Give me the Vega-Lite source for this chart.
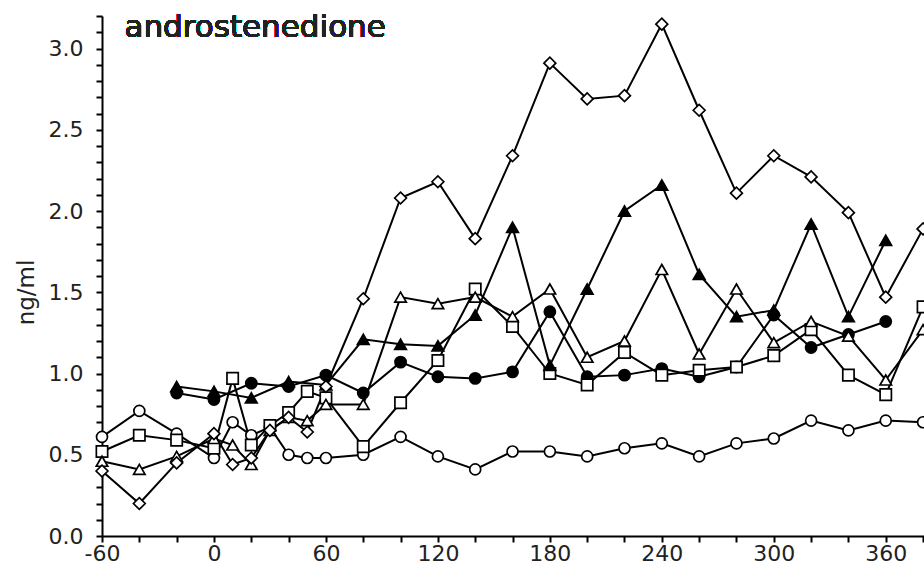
{
  "$schema": "https://vega.github.io/schema/vega-lite/v6.json",
  "width": 822,
  "height": 520,
  "autosize": {"type": "none"},
  "padding": {"left": 102, "top": 16, "right": 0, "bottom": 42},
  "background": "white",
  "config": {
    "view": {"stroke": null},
    "axis": {
      "grid": false,
      "domainColor": "black",
      "domainWidth": 2,
      "tickColor": "black",
      "tickWidth": 2,
      "tickSize": 6,
      "labelFont": "DejaVu Sans",
      "labelFontSize": 22,
      "labelColor": "#222",
      "labelOverlap": false,
      "labelFlush": false,
      "titleFont": "DejaVu Sans",
      "titleFontWeight": "normal",
      "titleFontSize": 23,
      "titleColor": "#222"
    }
  },
  "data": {
    "values": [
      {"series": "circle_open", "t": -60, "v": 0.61}, {"series": "circle_open", "t": -40, "v": 0.77}, {"series": "circle_open", "t": -20, "v": 0.63}, {"series": "circle_open", "t": 0, "v": 0.48}, {"series": "circle_open", "t": 10, "v": 0.70}, {"series": "circle_open", "t": 20, "v": 0.62}, {"series": "circle_open", "t": 30, "v": 0.67}, {"series": "circle_open", "t": 40, "v": 0.50}, {"series": "circle_open", "t": 50, "v": 0.48}, {"series": "circle_open", "t": 60, "v": 0.48}, {"series": "circle_open", "t": 80, "v": 0.50}, {"series": "circle_open", "t": 100, "v": 0.61}, {"series": "circle_open", "t": 120, "v": 0.49}, {"series": "circle_open", "t": 140, "v": 0.41}, {"series": "circle_open", "t": 160, "v": 0.52}, {"series": "circle_open", "t": 180, "v": 0.52}, {"series": "circle_open", "t": 200, "v": 0.49}, {"series": "circle_open", "t": 220, "v": 0.54}, {"series": "circle_open", "t": 240, "v": 0.57}, {"series": "circle_open", "t": 260, "v": 0.49}, {"series": "circle_open", "t": 280, "v": 0.57}, {"series": "circle_open", "t": 300, "v": 0.60}, {"series": "circle_open", "t": 320, "v": 0.71}, {"series": "circle_open", "t": 340, "v": 0.65}, {"series": "circle_open", "t": 360, "v": 0.71}, {"series": "circle_open", "t": 380, "v": 0.70},
      {"series": "circle_filled", "t": -20, "v": 0.88}, {"series": "circle_filled", "t": 0, "v": 0.84}, {"series": "circle_filled", "t": 20, "v": 0.94}, {"series": "circle_filled", "t": 40, "v": 0.92}, {"series": "circle_filled", "t": 60, "v": 0.99}, {"series": "circle_filled", "t": 80, "v": 0.88}, {"series": "circle_filled", "t": 100, "v": 1.07}, {"series": "circle_filled", "t": 120, "v": 0.98}, {"series": "circle_filled", "t": 140, "v": 0.97}, {"series": "circle_filled", "t": 160, "v": 1.01}, {"series": "circle_filled", "t": 180, "v": 1.38}, {"series": "circle_filled", "t": 200, "v": 0.98}, {"series": "circle_filled", "t": 220, "v": 0.99}, {"series": "circle_filled", "t": 240, "v": 1.03}, {"series": "circle_filled", "t": 260, "v": 0.98}, {"series": "circle_filled", "t": 280, "v": 1.04}, {"series": "circle_filled", "t": 300, "v": 1.36}, {"series": "circle_filled", "t": 320, "v": 1.16}, {"series": "circle_filled", "t": 340, "v": 1.24}, {"series": "circle_filled", "t": 360, "v": 1.32},
      {"series": "square_open", "t": -60, "v": 0.52}, {"series": "square_open", "t": -40, "v": 0.62}, {"series": "square_open", "t": -20, "v": 0.59}, {"series": "square_open", "t": 0, "v": 0.54}, {"series": "square_open", "t": 10, "v": 0.97}, {"series": "square_open", "t": 20, "v": 0.56}, {"series": "square_open", "t": 30, "v": 0.68}, {"series": "square_open", "t": 40, "v": 0.76}, {"series": "square_open", "t": 50, "v": 0.89}, {"series": "square_open", "t": 60, "v": 0.85}, {"series": "square_open", "t": 80, "v": 0.55}, {"series": "square_open", "t": 100, "v": 0.82}, {"series": "square_open", "t": 120, "v": 1.08}, {"series": "square_open", "t": 140, "v": 1.52}, {"series": "square_open", "t": 160, "v": 1.29}, {"series": "square_open", "t": 180, "v": 1.00}, {"series": "square_open", "t": 200, "v": 0.93}, {"series": "square_open", "t": 220, "v": 1.13}, {"series": "square_open", "t": 240, "v": 0.99}, {"series": "square_open", "t": 260, "v": 1.02}, {"series": "square_open", "t": 280, "v": 1.04}, {"series": "square_open", "t": 300, "v": 1.11}, {"series": "square_open", "t": 320, "v": 1.27}, {"series": "square_open", "t": 340, "v": 0.99}, {"series": "square_open", "t": 360, "v": 0.87}, {"series": "square_open", "t": 380, "v": 1.41},
      {"series": "triangle_open", "t": -60, "v": 0.46}, {"series": "triangle_open", "t": -40, "v": 0.41}, {"series": "triangle_open", "t": -20, "v": 0.49}, {"series": "triangle_open", "t": 0, "v": 0.60}, {"series": "triangle_open", "t": 10, "v": 0.56}, {"series": "triangle_open", "t": 20, "v": 0.44}, {"series": "triangle_open", "t": 30, "v": 0.65}, {"series": "triangle_open", "t": 40, "v": 0.73}, {"series": "triangle_open", "t": 50, "v": 0.71}, {"series": "triangle_open", "t": 60, "v": 0.81}, {"series": "triangle_open", "t": 80, "v": 0.81}, {"series": "triangle_open", "t": 100, "v": 1.47}, {"series": "triangle_open", "t": 120, "v": 1.43}, {"series": "triangle_open", "t": 140, "v": 1.47}, {"series": "triangle_open", "t": 160, "v": 1.35}, {"series": "triangle_open", "t": 180, "v": 1.52}, {"series": "triangle_open", "t": 200, "v": 1.10}, {"series": "triangle_open", "t": 220, "v": 1.20}, {"series": "triangle_open", "t": 240, "v": 1.64}, {"series": "triangle_open", "t": 260, "v": 1.12}, {"series": "triangle_open", "t": 280, "v": 1.52}, {"series": "triangle_open", "t": 300, "v": 1.19}, {"series": "triangle_open", "t": 320, "v": 1.32}, {"series": "triangle_open", "t": 340, "v": 1.23}, {"series": "triangle_open", "t": 360, "v": 0.96}, {"series": "triangle_open", "t": 380, "v": 1.27},
      {"series": "triangle_filled", "t": -20, "v": 0.92}, {"series": "triangle_filled", "t": 0, "v": 0.89}, {"series": "triangle_filled", "t": 20, "v": 0.85}, {"series": "triangle_filled", "t": 40, "v": 0.95}, {"series": "triangle_filled", "t": 60, "v": 0.93}, {"series": "triangle_filled", "t": 80, "v": 1.21}, {"series": "triangle_filled", "t": 100, "v": 1.18}, {"series": "triangle_filled", "t": 120, "v": 1.17}, {"series": "triangle_filled", "t": 140, "v": 1.36}, {"series": "triangle_filled", "t": 160, "v": 1.90}, {"series": "triangle_filled", "t": 180, "v": 1.05}, {"series": "triangle_filled", "t": 200, "v": 1.52}, {"series": "triangle_filled", "t": 220, "v": 2.00}, {"series": "triangle_filled", "t": 240, "v": 2.16}, {"series": "triangle_filled", "t": 260, "v": 1.61}, {"series": "triangle_filled", "t": 280, "v": 1.35}, {"series": "triangle_filled", "t": 300, "v": 1.39}, {"series": "triangle_filled", "t": 320, "v": 1.92}, {"series": "triangle_filled", "t": 340, "v": 1.35}, {"series": "triangle_filled", "t": 360, "v": 1.82},
      {"series": "diamond_open", "t": -60, "v": 0.40}, {"series": "diamond_open", "t": -40, "v": 0.20}, {"series": "diamond_open", "t": -20, "v": 0.45}, {"series": "diamond_open", "t": 0, "v": 0.63}, {"series": "diamond_open", "t": 10, "v": 0.44}, {"series": "diamond_open", "t": 20, "v": 0.48}, {"series": "diamond_open", "t": 30, "v": 0.65}, {"series": "diamond_open", "t": 40, "v": 0.73}, {"series": "diamond_open", "t": 50, "v": 0.64}, {"series": "diamond_open", "t": 60, "v": 0.92}, {"series": "diamond_open", "t": 80, "v": 1.46}, {"series": "diamond_open", "t": 100, "v": 2.08}, {"series": "diamond_open", "t": 120, "v": 2.18}, {"series": "diamond_open", "t": 140, "v": 1.83}, {"series": "diamond_open", "t": 160, "v": 2.34}, {"series": "diamond_open", "t": 180, "v": 2.91}, {"series": "diamond_open", "t": 200, "v": 2.69}, {"series": "diamond_open", "t": 220, "v": 2.71}, {"series": "diamond_open", "t": 240, "v": 3.15}, {"series": "diamond_open", "t": 260, "v": 2.62}, {"series": "diamond_open", "t": 280, "v": 2.11}, {"series": "diamond_open", "t": 300, "v": 2.34}, {"series": "diamond_open", "t": 320, "v": 2.21}, {"series": "diamond_open", "t": 340, "v": 1.99}, {"series": "diamond_open", "t": 360, "v": 1.47}, {"series": "diamond_open", "t": 380, "v": 1.89}
    ]
  },
  "encoding": {
    "x": {
      "field": "t", "type": "quantitative",
      "scale": {"domain": [-60, 380.5], "nice": false, "zero": false},
      "axis": {
        "title": null,
        "values": [-60, -40, -20, 0, 20, 40, 60, 80, 100, 120, 140, 160, 180, 200, 220, 240, 260, 280, 300, 320, 340, 360, 380],
        "labelExpr": "datum.value % 60 === 0 ? '' + datum.value : ''",
        "labelPadding": 1
      }
    },
    "y": {
      "field": "v", "type": "quantitative",
      "scale": {"domain": [0, 3.2], "nice": false},
      "axis": {
        "title": "ng/ml",
        "values": [0, 0.1, 0.2, 0.3, 0.4, 0.5, 0.6, 0.7, 0.8, 0.9, 1, 1.1, 1.2, 1.3, 1.4, 1.5, 1.6, 1.7, 1.8, 1.9, 2, 2.1, 2.2, 2.3, 2.4, 2.5, 2.6, 2.7, 2.8, 2.9, 3, 3.1, 3.2],
        "labelExpr": "abs(datum.value * 2 - round(datum.value * 2)) < 0.001 ? format(datum.value, '.1f') : ''",
        "labelPadding": 13,
        "titleX": -69,
        "titleY": 276,
        "titleAngle": -90,
        "titleAlign": "center",
        "titleBaseline": "alphabetic"
      }
    }
  },
  "layer": [
    {
      "mark": {"type": "line", "color": "black", "strokeWidth": 2},
      "encoding": {"detail": {"field": "series"}}
    },
    {
      "mark": {"type": "point", "filled": true, "stroke": "black", "strokeWidth": 1.7, "opacity": 1},
      "encoding": {
        "shape": {
          "field": "series", "type": "nominal", "legend": null,
          "scale": {
            "domain": ["circle_open", "circle_filled", "square_open", "triangle_open", "triangle_filled", "diamond_open"],
            "range": ["circle", "circle", "square", "triangle-up", "triangle-up", "diamond"]
          }
        },
        "fill": {
          "field": "series", "type": "nominal", "legend": null,
          "scale": {
            "domain": ["circle_open", "circle_filled", "square_open", "triangle_open", "triangle_filled", "diamond_open"],
            "range": ["white", "black", "white", "white", "black", "white"]
          }
        },
        "size": {
          "field": "series", "type": "nominal", "legend": null,
          "scale": {
            "domain": ["circle_open", "circle_filled", "square_open", "triangle_open", "triangle_filled", "diamond_open"],
            "range": [120, 140, 120, 150, 150, 110]
          }
        }
      }
    },
    {
      "mark": {"type": "text", "align": "left", "baseline": "alphabetic", "font": "DejaVu Sans", "fontSize": 31, "color": "#222"},
      "encoding": {
        "x": {"datum": -48},
        "y": {"datum": 3.07},
        "text": {"value": "androstenedione"}
      }
    }
  ]
}
